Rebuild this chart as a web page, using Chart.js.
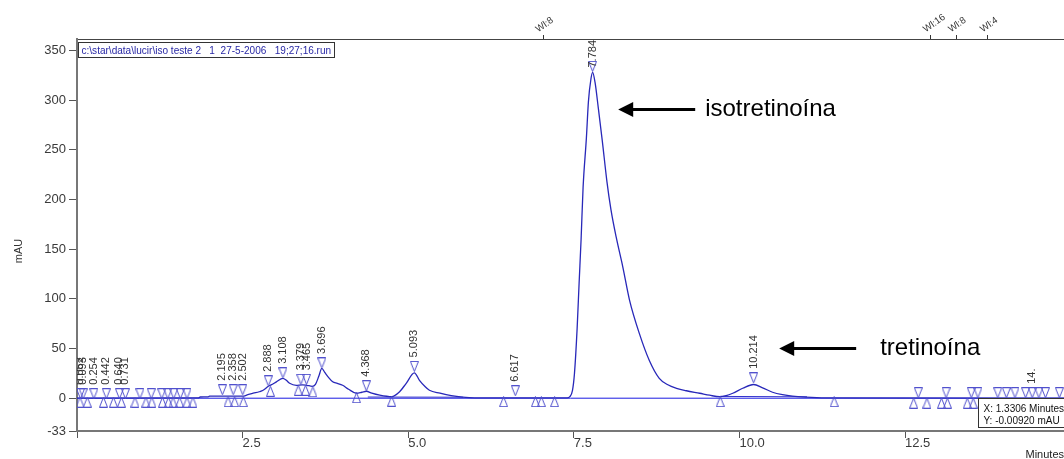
<!DOCTYPE html>
<html>
<head>
<meta charset="utf-8">
<script src="https://cdn.jsdelivr.net/npm/chart.js"></script>
<style>
html, body { margin: 0; padding: 0; background: #fff; }
canvas { display: block; }
</style>
</head>
<body>
<canvas id="chrom" width="1064" height="459"></canvas>
<script>
// detector trace (minutes / mAU)
var traceTime = [0, 1.83, 1.86, 1.98, 2.0, 2.5, 2.58, 2.66, 2.75, 2.81, 2.888, 2.95, 3.01, 3.108, 3.16,
  3.21, 3.31, 3.40, 3.47, 3.55, 3.60, 3.65, 3.696, 3.74, 3.79, 3.86, 3.93, 4.01, 4.10, 4.22,
  4.30, 4.368, 4.45, 4.57, 4.75, 4.87, 4.97, 5.093, 5.17, 5.25, 5.32, 5.48, 5.65, 5.82, 6.0,
  7.40, 7.44, 7.48, 7.51, 7.55, 7.58, 7.61, 7.64, 7.69, 7.72, 7.76, 7.784, 7.82, 7.87, 7.93,
  8.00, 8.06, 8.14, 8.24, 8.34, 8.49, 8.64, 8.79, 8.92, 9.05, 9.2, 9.4, 9.55, 9.7, 9.8,
  9.9, 10.05, 10.214, 10.35, 10.5, 10.65, 10.8, 11.0, 11.3, 14.9];
var traceMAU = [0, 0.3, 1.2, 1.3, 2, 2, 3.5, 5, 6.5, 8, 12, 14, 16.5, 20, 18,
  15, 13, 13.5, 13, 12, 14, 22, 30, 26, 21.5, 16.5, 15, 13, 9, 5,
  6, 7, 5, 3, 1.5, 6.5, 15, 25.5, 18, 12, 8, 5, 2.5, 1, 0.3,
  0.3, 1.5, 8, 25, 70, 116, 160, 212, 262, 298, 322, 328, 318, 292, 259,
  218, 190, 162, 132, 99, 65, 38, 20, 13.5, 10, 7.5, 5, 3, 1.5, 2.5,
  5, 10, 13.8, 10.5, 6, 3.5, 2, 1, 0.3, 0];

// zero baseline and the integration baselines (null = break)
var baseTime = [0, 14.9];
var baseMAU = [0, 0];
var integTime = [4.39, 5.83, 5.9, 9.71, 11.02];
var integMAU = [1.2, 1.0, null, 1.8, 1.4];

// peak apex marks (down triangles) with their retention time labels
var apexTime = [0.052, 0.093, 0.254, 0.442, 0.640, 0.731, 0.95, 1.12, 1.28, 1.37, 1.46, 1.56, 1.66,
  2.195, 2.358, 2.502, 2.888, 3.108, 3.379, 3.465, 3.696, 4.368, 5.093, 6.617, 7.784, 10.214,
  12.70, 13.12, 13.50, 13.60, 13.90, 14.03, 14.16, 14.32, 14.42, 14.52, 14.62, 14.83];
var apexMAU = [4.5, 4.5, 4.5, 4.5, 4.5, 4.5, 4.5, 4.5, 4.5, 4.5, 4.5, 4.5, 4.5,
  8.5, 8.5, 8.5, 17.5, 25.5, 19, 19, 35.5, 12.5, 32, 7.5, 334, 20.5,
  5.5, 5.5, 5.5, 5.5, 5.5, 5.5, 5.5, 5.5, 5.5, 5.5, 5.5, 5.5];
var apexLabel = ['0.052', '0.093', '0.254', '0.442', '0.640', '0.731', '', '', '', '', '', '', '',
  '2.195', '2.358', '2.502', '2.888', '3.108', '3.379', '3.465', '3.696', '4.368', '5.093', '6.617', '7.784', '10.214',
  '', '', '', '', '', '', '', '', '14.', '', '', ''];

// peak start / end marks (up triangles)
var eventTime = [0.045, 0.155, 0.40, 0.55, 0.67, 0.875, 1.04, 1.13, 1.29, 1.38, 1.45, 1.55, 1.66, 1.75,
  2.28, 2.38, 2.51, 2.92, 3.34, 3.45, 3.56, 4.22, 4.75,
  6.44, 6.92, 7.01, 7.21, 9.71, 11.43,
  12.63, 12.83, 13.05, 13.14, 13.44, 13.53];
var eventMAU = [-4, -4, -4, -4, -4, -4, -4, -4, -4, -4, -4, -4, -4, -4,
  -3.5, -3.5, -3.5, 7, 8, 8, 6.5, 0.5, -3,
  -3.5, -3.5, -3.5, -3.5, -3.5, -3.5,
  -5, -5, -5, -5, -5, -5];

// axes
var yTickValues = [-33, 0, 50, 100, 150, 200, 250, 300, 350];
var xTickValues = [0, 2.5, 5.0, 7.5, 10.0, 12.5];
var xTickLabels = ['', '2.5', '5.0', '7.5', '10.0', '12.5'];
var wlTime = [7.04, 12.89, 13.27, 13.75];
var wlLabels = ['Wl:8', 'Wl:16', 'Wl:8', 'Wl:4'];

// texts
var runFile = 'c:\\star\\data\\lucir\\iso teste 2   1  27-5-2006   19;27;16.run';
var cursorLines = ['X: 1.3306 Minutes', 'Y: -0.00920 mAU'];
var noteText = ['isotretinoína', 'tretinoína'];
var noteTipTime = [8.17, 10.6];
var noteTipMAU = [291, 50.8];

function pts(xs, ys) {
  return xs.map(function (x, i) { return { x: x, y: ys[i] }; });
}

function triangle(down) {
  var cv = document.createElement('canvas');
  cv.width = 9; cv.height = 11;
  var g = cv.getContext('2d');
  g.strokeStyle = 'rgb(80,80,205)';
  g.lineWidth = 1;
  g.beginPath();
  if (down) {
    g.moveTo(0.5, 0.5); g.lineTo(8.5, 0.5); g.lineTo(4.5, 10.5);
  } else {
    g.moveTo(4.5, 0.5); g.lineTo(8.5, 10.5); g.lineTo(0.5, 10.5);
  }
  g.closePath();
  g.stroke();
  return cv;
}

var FONT = '"Liberation Sans", Arial, sans-serif';
Chart.defaults.font.family = FONT;

var overlay = {
  id: 'overlay',
  afterDatasetsDraw: function (chart) {
    var c = chart.ctx, a = chart.chartArea;
    var sx = chart.scales.x, sy = chart.scales.y;

    // retention time labels above the apex marks
    c.save();
    c.beginPath();
    c.rect(a.left, a.top, a.right - a.left, a.bottom - a.top);
    c.clip();
    c.font = '11px ' + FONT;
    c.fillStyle = '#333';
    c.textAlign = 'left';
    c.textBaseline = 'middle';
    apexLabel.forEach(function (txt, i) {
      if (!txt) return;
      var px = sx.getPixelForValue(apexTime[i]);
      var py = sy.getPixelForValue(apexMAU[i]) - 9;
      var w = c.measureText(txt).width;
      py = Math.max(py, a.top + 1 + w);
      c.save();
      c.translate(px, py);
      c.rotate(-Math.PI / 2);
      c.fillText(txt, 0, 0);
      c.restore();
    });
    c.restore();

    c.save();
    // run file box
    c.font = '10px ' + FONT;
    var fs = 10 * 250 / c.measureText(runFile).width;
    c.font = fs.toFixed(2) + 'px ' + FONT;
    var bx = a.left + 1.5, by = a.top + 3.5;
    c.fillStyle = '#fff';
    c.fillRect(bx, by, 256, 15);
    c.strokeStyle = '#333';
    c.lineWidth = 1;
    c.strokeRect(bx, by, 256, 15);
    c.fillStyle = 'rgb(40,40,165)';
    c.textBaseline = 'alphabetic';
    c.textAlign = 'left';
    c.fillText(runFile, bx + 3, by + 11);

    // cursor readout box
    var ix = a.right - 85.5, iy = a.bottom - 32.5;
    c.fillStyle = '#fff';
    c.fillRect(ix, iy, 95, 29);
    c.strokeStyle = '#333';
    c.strokeRect(ix, iy, 95, 29);
    c.fillStyle = '#111';
    c.font = '10px ' + FONT;
    c.fillText(cursorLines[0], ix + 5, iy + 13);
    c.fillText(cursorLines[1], ix + 5, iy + 25);

    // arrows and compound names
    noteText.forEach(function (txt, i) {
      var tx = sx.getPixelForValue(noteTipTime[i]);
      var ty = Math.round(sy.getPixelForValue(noteTipMAU[i])) + 0.5;
      c.strokeStyle = '#000';
      c.lineWidth = 3;
      c.beginPath();
      c.moveTo(tx + 12, ty);
      c.lineTo(tx + 77, ty);
      c.stroke();
      c.fillStyle = '#000';
      c.beginPath();
      c.moveTo(tx, ty);
      c.lineTo(tx + 15, ty - 7.5);
      c.lineTo(tx + 15, ty + 7.5);
      c.closePath();
      c.fill();
      c.font = '24px ' + FONT;
      c.fillText(txt, tx + (i === 0 ? 87 : 101), ty + 6.5);
    });

    // y axis title
    c.font = '11px ' + FONT;
    c.fillStyle = '#333';
    c.textAlign = 'center';
    c.textBaseline = 'middle';
    c.translate(a.left - 58, (a.top + a.bottom) / 2 + 16);
    c.rotate(-Math.PI / 2);
    c.fillText('mAU', 0, 0);
    c.restore();
  }
};

var ctx = document.getElementById('chrom').getContext('2d');
var chart = new Chart(ctx, {
  type: 'line',
  data: {
    datasets: [
      { label: 'apex', data: pts(apexTime, apexMAU), showLine: false,
        pointStyle: triangle(true), pointRadius: 5 },
      { label: 'events', data: pts(eventTime, eventMAU), showLine: false,
        pointStyle: triangle(false), pointRadius: 5 },
      { label: 'trace', data: pts(traceTime, traceMAU), borderColor: 'rgb(40,40,185)',
        borderWidth: 1.3, pointRadius: 0, cubicInterpolationMode: 'monotone' },
      { label: 'integration', data: pts(integTime, integMAU), borderColor: 'rgb(50,50,205)',
        borderWidth: 1, pointRadius: 0, spanGaps: false },
      { label: 'baseline', data: pts(baseTime, baseMAU), borderColor: 'rgb(25,25,225)',
        borderWidth: 1, pointRadius: 0 }
    ]
  },
  options: {
    responsive: false,
    animation: false,
    devicePixelRatio: 1,
    layout: { padding: 0, autoPadding: false },
    plugins: { legend: { display: false }, tooltip: { enabled: false } },
    scales: {
      x: {
        type: 'linear', position: 'bottom', min: 0, max: 14.9, bounds: 'data',
        afterBuildTicks: function (s) { s.ticks = xTickValues.map(function (v) { return { value: v }; }); },
        afterFit: function (s) { s.height = 28; },
        grid: { drawOnChartArea: false, tickLength: 7, tickColor: '#555' },
        border: { display: true, color: '#777', width: 2 },
        ticks: { autoSkip: false, align: 'start', padding: -2, color: '#3a3a3a', font: { size: 13 },
          maxRotation: 0, callback: function (v, i) { return xTickLabels[i]; } },
        title: { display: true, text: 'Minutes', align: 'end', color: '#222', font: { size: 11 },
          padding: { top: 0, bottom: -3 } }
      },
      xTop: {
        type: 'linear', position: 'top', min: 0, max: 14.9, bounds: 'data',
        afterBuildTicks: function (s) { s.ticks = wlTime.map(function (v) { return { value: v }; }); },
        afterFit: function (s) { s.height = 39; },
        grid: { drawOnChartArea: false, tickLength: 4, tickColor: '#333' },
        border: { display: true, color: '#444', width: 1 },
        ticks: { autoSkip: false, padding: 0, color: '#333', font: { size: 9.5 },
          minRotation: 35, maxRotation: 35, callback: function (v, i) { return wlLabels[i]; } }
      },
      y: {
        type: 'linear', position: 'left', min: -33, max: 361.5, bounds: 'data',
        afterBuildTicks: function (s) { s.ticks = yTickValues.map(function (v) { return { value: v }; }); },
        afterFit: function (s) { s.width = 77; },
        grid: { drawOnChartArea: false, tickLength: 8, tickColor: '#555' },
        border: { display: true, color: '#777', width: 2 },
        ticks: { autoSkip: false, padding: 3, color: '#3a3a3a', font: { size: 13 },
          callback: function (v) { return String(v); } }
      }
    }
  },
  plugins: [overlay]
});
</script>
</body>
</html>
